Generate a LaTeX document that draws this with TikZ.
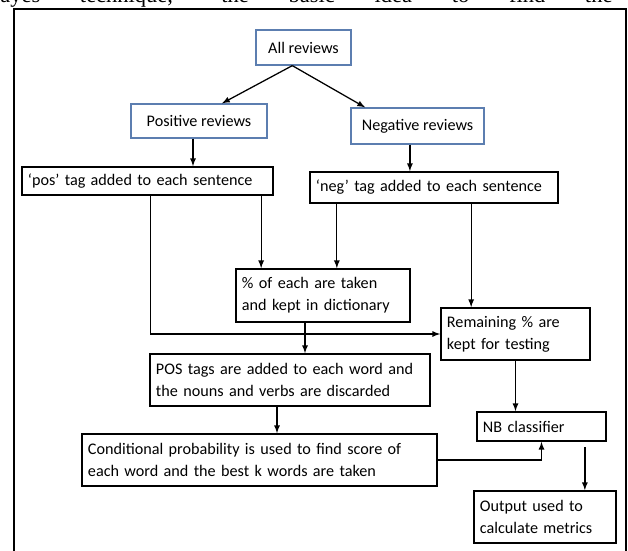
\documentclass[tikz,border=0pt]{standalone}
\usepackage{fontspec}
\setmainfont{Carlito}
\newfontfamily\pagefont{Liberation Serif}

\definecolor{boxblue}{RGB}{92,126,176}

\tikzset{
    stepbox/.style={draw, line width=1.2pt, align=left, inner xsep=0.15cm,
        font=\fontsize{11.5}{15.5}\selectfont},
    headbox/.style={draw=boxblue, line width=0.9pt, align=center,
        font=\fontsize{11.5}{15.5}\selectfont},
    arr/.style={-latex, line width=0.9pt},
}

\begin{document}
\begin{tikzpicture}[x=0.025cm, y=-0.025cm]
    \useasboundingbox (0,0) rectangle (628,550);

    \node[anchor=base west, inner sep=0, font=\pagefont\fontsize{16}{18}\selectfont] (pagetext) at (0,3)
        {\makebox[15.3cm][s]{ayes technique, the basic idea to find the}};
    \draw[line width=1pt] (14,9) rectangle (626,560);

    \node[headbox, minimum width=2.375cm, minimum height=0.875cm] (all) at (303.5,47.5) {All reviews};
    \node[headbox, minimum width=3.4cm, minimum height=0.85cm] (pos) at (199,121) {Positive reviews};
    \node[headbox, minimum width=3.325cm, minimum height=0.9cm] (neg) at (417.5,126) {Negative reviews};

    \node[stepbox, text width=5.975cm, minimum height=0.7cm] (postag) at (147.5,181) {‘pos’ tag added to each sentence};
    \node[stepbox, text width=5.9cm, minimum height=0.775cm] (negtag) at (434,187.5) {‘neg’ tag added to each sentence};
    \node[stepbox, text width=4.05cm, minimum height=1.325cm] (pct) at (323,295.5) {\% of each are taken\\and kept in dictionary};
    \node[stepbox, text width=3.425cm, minimum height=1.3cm] (rem) at (515.5,334) {Remaining \% are\\kept for testing};
    \node[stepbox, text width=6.7cm, minimum height=1.3cm] (postags) at (290,380) {POS tags are added to each word and\\the nouns and verbs are discarded};
    \node[stepbox, text width=8.575cm, minimum height=1.3cm] (cond) at (259.5,460) {Conditional probability is used to find score of\\each word and the best k words are taken};
    \node[stepbox, text width=2.925cm, minimum height=0.725cm] (nb) at (541.5,426.5) {NB classifier};
    \node[stepbox, text width=3.25cm, minimum height=1.3cm] (out) at (545,517) {Output used to\\calculate metrics};

    \draw[arr] ([xshift=-0.28cm]all.south) -- ([xshift=0.575cm]pos.north);
    \draw[arr] ([xshift=-0.28cm]all.south) -- ([xshift=-1.31cm]neg.north);
    \draw[arr] ([xshift=-0.15cm]pos.south) -- ([xshift=-0.15cm]pos.south |- postag.north);
    \draw[arr] ([xshift=-0.19cm]neg.south) -- ([xshift=-0.19cm]neg.south |- negtag.north);

    \draw[arr] ([xshift=0.65cm]postag.south -| pct.west) -- ([xshift=0.65cm]pct.north west);
    \draw[arr] ([xshift=-1.85cm]negtag.south -| pct.east) -- ([xshift=-1.85cm]pct.north east);
    \draw[arr] ([xshift=0.775cm]negtag.south -| rem.west) -- ([xshift=0.775cm]rem.north west);
    \draw[arr] ([xshift=3.225cm]postag.south west) |- (rem.west);

    \draw[arr] ([xshift=-0.45cm]pct.south) -- ([xshift=-0.45cm]pct.south |- postags.north);
    \draw[arr] ([xshift=-0.325cm]postags.south) -- ([xshift=-0.325cm]postags.south |- cond.north);
    \draw[arr] (rem.south) -- (rem.south |- nb.north);
    \draw[arr] (cond.east) -| (nb.south);
    \draw[arr] ([xshift=-0.55cm,yshift=-0.125cm]nb.south east) -- ([xshift=-0.55cm]nb.south east |- out.north);
\end{tikzpicture}
\end{document}
